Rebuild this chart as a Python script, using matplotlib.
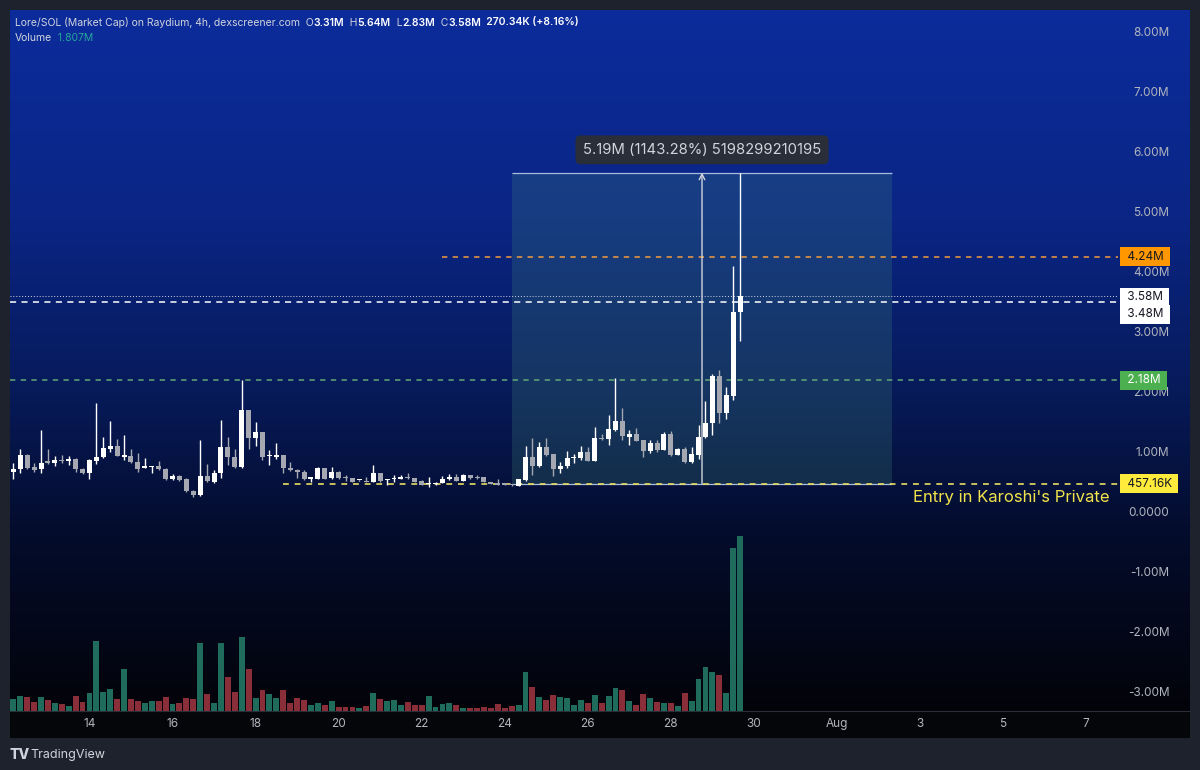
import numpy as np
import pandas as pd
import matplotlib
matplotlib.use('Agg')
import matplotlib.pyplot as plt
import matplotlib.dates as mdates
from matplotlib.colors import LinearSegmentedColormap

plt.rcParams['font.family'] = ['Inter', 'DejaVu Sans']

# Lore/SOL market cap, 4h candles (values in millions)
first_candle = '2024-07-12 04:00'
opens = [0.65, 0.70, 0.93, 0.73, 0.70, 0.83, 0.80, 0.85, 0.83, 0.87,
         0.70, 0.63, 0.83, 0.90, 1.03, 1.08, 0.90, 0.92, 0.82, 0.72,
         0.73, 0.75, 0.70, 0.53, 0.58, 0.53, 0.33, 0.27, 0.58, 0.48,
         0.63, 1.07, 0.90, 0.73, 1.68, 1.22, 1.32, 0.91, 0.90, 0.93,
         0.71, 0.69, 0.655, 0.53, 0.54, 0.71, 0.545, 0.655, 0.555, 0.545,
         0.51, 0.505, 0.49, 0.63, 0.52, 0.53, 0.535, 0.56, 0.545, 0.50,
         0.445, 0.445, 0.46, 0.53, 0.56, 0.505, 0.60, 0.57, 0.56, 0.49,
         0.47, 0.46, 0.45, 0.42, 0.52, 0.895, 0.75, 1.06, 0.945, 0.695,
         0.75, 0.88, 0.89, 0.98, 0.84, 1.22, 1.195, 1.35, 1.505, 1.24,
         1.28, 1.18, 1.005, 1.13, 1.02, 1.28, 0.93, 1.03, 0.81, 0.935,
         1.23, 1.46, 2.255, 1.64, 1.92, 3.31]
highs = [0.80, 1.03, 0.95, 0.80, 1.35, 1.03, 0.92, 0.93, 0.92, 0.88,
         0.72, 0.87, 1.80, 1.23, 1.50, 1.20, 1.27, 1.03, 0.97, 0.89,
         0.75, 0.83, 0.72, 0.62, 0.60, 0.55, 0.35, 1.18, 0.78, 0.68,
         1.52, 1.23, 1.03, 2.18, 1.68, 1.49, 1.32, 1.02, 1.13, 0.93,
         0.82, 0.70, 0.68, 0.57, 0.73, 0.72, 0.73, 0.66, 0.60, 0.555,
         0.52, 0.57, 0.77, 0.64, 0.535, 0.60, 0.60, 0.64, 0.55, 0.52,
         0.56, 0.48, 0.58, 0.61, 0.61, 0.61, 0.60, 0.60, 0.56, 0.49,
         0.53, 0.46, 0.45, 0.53, 1.08, 1.21, 1.155, 1.21, 0.95, 0.82,
         1.00, 0.95, 1.08, 1.06, 1.405, 1.28, 1.60, 2.21, 1.71, 1.35,
         1.38, 1.19, 1.18, 1.18, 1.32, 1.33, 1.045, 1.06, 1.06, 1.43,
         1.84, 2.29, 2.35, 2.06, 4.08, 5.64]
lows = [0.53, 0.63, 0.70, 0.65, 0.63, 0.79, 0.75, 0.80, 0.77, 0.65,
        0.62, 0.53, 0.78, 0.88, 0.99, 0.92, 0.85, 0.80, 0.65, 0.72,
        0.64, 0.68, 0.52, 0.52, 0.50, 0.32, 0.23, 0.25, 0.48, 0.47,
        0.55, 0.77, 0.72, 0.72, 1.04, 1.09, 0.85, 0.77, 0.87, 0.64,
        0.67, 0.55, 0.52, 0.49, 0.53, 0.53, 0.54, 0.54, 0.505, 0.49,
        0.50, 0.49, 0.49, 0.49, 0.43, 0.48, 0.53, 0.53, 0.49, 0.43,
        0.395, 0.44, 0.46, 0.52, 0.50, 0.50, 0.53, 0.53, 0.48, 0.45,
        0.43, 0.43, 0.42, 0.42, 0.50, 0.60, 0.74, 0.92, 0.59, 0.63,
        0.71, 0.795, 0.85, 0.83, 0.83, 1.18, 1.10, 1.34, 1.18, 1.10,
        1.16, 0.905, 0.96, 0.98, 1.01, 0.92, 0.93, 0.80, 0.795, 0.86,
        1.22, 1.27, 1.47, 1.53, 1.85, 2.83]
closes = [0.70, 0.93, 0.72, 0.68, 0.80, 0.80, 0.85, 0.84, 0.86, 0.70,
          0.63, 0.85, 0.90, 1.05, 1.08, 0.92, 0.93, 0.82, 0.70, 0.75,
          0.75, 0.70, 0.53, 0.58, 0.52, 0.33, 0.27, 0.58, 0.50, 0.63,
          1.07, 0.90, 0.73, 1.68, 1.22, 1.32, 0.90, 0.92, 0.93, 0.72,
          0.68, 0.655, 0.53, 0.56, 0.71, 0.54, 0.655, 0.545, 0.55, 0.49,
          0.515, 0.49, 0.63, 0.50, 0.535, 0.545, 0.57, 0.545, 0.49, 0.43,
          0.455, 0.47, 0.535, 0.56, 0.50, 0.60, 0.545, 0.555, 0.48, 0.45,
          0.43, 0.43, 0.43, 0.53, 0.905, 0.75, 1.06, 0.93, 0.695, 0.755,
          0.89, 0.895, 0.98, 0.84, 1.22, 1.20, 1.36, 1.505, 1.25, 1.28,
          1.17, 1.005, 1.13, 1.02, 1.28, 0.93, 1.03, 0.81, 0.945, 1.23,
          1.46, 2.255, 1.64, 1.93, 3.31, 3.58]
# volume in thousands
volumes = [121, 155, 148, 93, 148, 114, 80, 69, 52, 155,
           93, 189, 723, 196, 230, 121, 431, 121, 103, 80,
           103, 103, 145, 75, 86, 137, 121, 706, 179, 86,
           706, 351, 196, 764, 437, 131, 217, 179, 131, 214,
           86, 137, 114, 59, 80, 59, 103, 41, 41, 41,
           28, 52, 189, 121, 103, 114, 62, 93, 62, 59,
           155, 41, 75, 80, 59, 34, 34, 28, 41, 34,
           75, 28, 52, 59, 403, 251, 145, 111, 162, 148,
           131, 62, 111, 80, 162, 86, 155, 235, 217, 103,
           62, 179, 131, 93, 86, 80, 52, 183, 103, 328,
           458, 406, 372, 183, 1688, 1807]

price_ticks = [-3, -2, -1, 0, 1, 2, 3, 4, 5, 6, 7, 8]
date_ticks = ['2024-07-14', '2024-07-16', '2024-07-18', '2024-07-20', '2024-07-22',
              '2024-07-24', '2024-07-26', '2024-07-28', '2024-07-30', '2024-08-01',
              '2024-08-03', '2024-08-05', '2024-08-07']
date_labels = ['14', '16', '18', '20', '22', '24', '26', '28', '30', 'Aug', '3', '5', '7']

entry = 0.45716
target = 4.24
support = 2.18
white_level = 3.48
last_price = 3.58
measure_top = 5.64
measure_start = '2024-07-24 04:00'
measure_end = '2024-08-02 08:00'
target_start = '2024-07-22 12:00'
entry_start = '2024-07-18 16:00'

W, H = 1200, 770
fig = plt.figure(figsize=(12, 7.7), dpi=100, facecolor='#1e222d')

# gradient panel behind the chart
bg = fig.add_axes([10 / W, 1 - 711 / H, 1180 / W, 701 / H], zorder=0)
cmap = LinearSegmentedColormap.from_list('tv', [(0, '#0c2c9c'), (0.3, '#0a2584'),
                                                (0.55, '#071a58'), (0.75, '#040c2c'),
                                                (1, '#020309')])
bg.imshow(np.linspace(0, 1, 256).reshape(-1, 1), aspect='auto', cmap=cmap,
          extent=[0, 1, 0, 1])
bg.axis('off')

strip = fig.add_axes([10 / W, 1 - 738 / H, 1180 / W, 27 / H], zorder=0)
strip.set_facecolor('#050609')
strip.set_xticks([]); strip.set_yticks([])
for s in strip.spines.values():
    s.set_visible(False)
strip.spines['top'].set_visible(True)
strip.spines['top'].set_color('#2a2e39')

ax = fig.add_axes([10 / W, 1 - 711 / H, 1108 / W, 701 / H], zorder=2)
ax.patch.set_visible(False)
ax2 = ax.twinx()
ax2.set_zorder(1)
ax2.patch.set_visible(False)

t = mdates.date2num(pd.date_range(first_candle, periods=len(opens), freq='4h'))
step = 4 / 24
o = np.array(opens); c = np.array(closes)
h = np.array(highs); l = np.array(lows)
up = c >= o

# volume
vol_col = np.where(up, '#1f6b5c', '#8a2f3a')
ax2.bar(t, volumes, width=step * 0.85, color=vol_col, linewidth=0)
ax2.set_ylim(0, 7240)
ax2.set_yticks([])
for s in ax2.spines.values():
    s.set_visible(False)

xmin, xmax = t[0] - 0.48 * step, t[0] + 159.6 * step
ax.set_xlim(xmin, xmax)
ax.set_ylim(-3.333, 8.35)

# measuring box
m0 = mdates.date2num(pd.Timestamp(measure_start))
m1 = mdates.date2num(pd.Timestamp(measure_end))
ax.fill_between([m0, m1], entry, measure_top, color='#42897a', alpha=0.24, linewidth=0, zorder=1)
ax.hlines([measure_top, entry], m0, m1, color='#a9bde0', lw=0.9, zorder=2)
mid = (m0 + m1) / 2
ax.annotate('', xy=(mid, measure_top), xytext=(mid, entry),
            arrowprops=dict(arrowstyle='->', color='#d1d4dc', lw=1, shrinkA=0, shrinkB=0),
            zorder=3)
ax.text(mid, 6.02, '5.19M (1143.28%) 5198299210195', ha='center', va='center',
        fontsize=10.7, color='#d1d4dc', zorder=6,
        bbox=dict(boxstyle='round,pad=0.5,rounding_size=0.35', fc='#2a2e39', ec='none'))

# horizontal levels
ax.hlines(support, xmin, xmax, color='#62a876', lw=1.1, linestyles=(0, (3.5, 3.5)), zorder=2)
ax.hlines(white_level, xmin, xmax, color='#ffffff', lw=1.1, linestyles=(0, (4, 3.5)), zorder=2)
ax.hlines(last_price, xmin, xmax, color='#ffffff', lw=0.7, linestyles=(0, (1, 2)), alpha=0.8, zorder=2)
ax.hlines(target, mdates.date2num(pd.Timestamp(target_start)), xmax, color='#f39c3c', lw=1.1,
          linestyles=(0, (3.5, 3.5)), zorder=2)
ax.hlines(entry, mdates.date2num(pd.Timestamp(entry_start)), xmax, color='#e8df62', lw=1.2,
          linestyles=(0, (3.5, 3.5)), zorder=3)

# candles
ccol = np.where(up, '#ffffff', '#a5a8b0')
ax.vlines(t, l, h, color=ccol, lw=1, zorder=4)
body = np.maximum(np.abs(c - o), 0.018)
ax.bar(t, body, bottom=np.minimum(o, c), width=step * 0.72, color=ccol, linewidth=0, zorder=5)

# axes styling
for s in ax.spines.values():
    s.set_visible(False)
ax.set_xticks(mdates.date2num(pd.to_datetime(date_ticks)))
ax.set_xticklabels(date_labels)
ax.tick_params(axis='x', length=0, pad=5, labelsize=8.5, colors='#b2b5be')
ax.yaxis.tick_right()
ax.set_yticks(price_ticks)
ax.set_yticklabels(['0.0000' if v == 0 else f'{v:.2f}M' for v in price_ticks])
ax.tick_params(axis='y', length=0, pad=37, labelsize=8.5, colors='#b2b5be')
for lab in ax.get_yticklabels():
    lab.set_ha('right')

# price axis labels for levels
def axis_label(y, s, fc, tc, dy=0):
    ax.annotate(' ' + s + ' ', xy=(1.0, y), xycoords=('axes fraction', 'data'),
                xytext=(4, dy), textcoords='offset points', ha='left', va='center',
                fontsize=8.5, color=tc, annotation_clip=False, zorder=7,
                bbox=dict(boxstyle='square,pad=0.28', fc=fc, ec='none'))

axis_label(target, '4.24M', '#ff9800', '#131722')
axis_label(last_price, '3.58M', '#ffffff', '#131722', dy=-0.7)
axis_label(white_level, '3.48M', '#ffffff', '#131722', dy=-8.7)
axis_label(support, '2.18M', '#4caf50', '#ffffff')
axis_label(entry, '457.16K', '#ffeb3b', '#131722')

ax.text(0.9928, 0.217, "Entry in Karoshi's Private", transform=ax.get_yaxis_transform(),
        ha='right', va='center', fontsize=12, color='#f2e34c', zorder=7)

# header legend, pieces chained left to right
def chain(parts, x, y, size=7.5):
    prev = fig.text(x, y, parts[0][0], color=parts[0][1], fontsize=size, va='center',
                    fontweight=parts[0][2])
    for s, col, fw in parts[1:]:
        prev = ax.annotate(s, xy=(1, 0), xycoords=prev, va='bottom', ha='left',
                           color=col, fontsize=size, fontweight=fw, annotation_clip=False)
    return prev

g = '#d1d4dc'
chain([('Lore/SOL (Market Cap) on Raydium, 4h, dexscreener.com', g, 'normal'),
       ('  O', g, 'normal'), ('3.31M', 'white', 'semibold'),
       ('  H', g, 'normal'), ('5.64M', 'white', 'semibold'),
       ('  L', g, 'normal'), ('2.83M', 'white', 'semibold'),
       ('  C', g, 'normal'), ('3.58M', 'white', 'semibold'),
       ('  270.34K (+8.16%)', 'white', 'semibold')], 15 / W, 1 - 22 / H)
chain([('Volume', g, 'normal'), ('  1.807M', '#26a69a', 'normal')], 15 / W, 1 - 38 / H)

fig.text(10 / W, 1 - 755 / H, 'TV', fontsize=10, fontweight='heavy', color='#d1d4dc', va='center')
fig.text(30 / W, 1 - 755 / H, 'TradingView', fontsize=9, color='#d1d4dc', va='center')

fig.savefig('out.png', dpi=100, facecolor=fig.get_facecolor())
